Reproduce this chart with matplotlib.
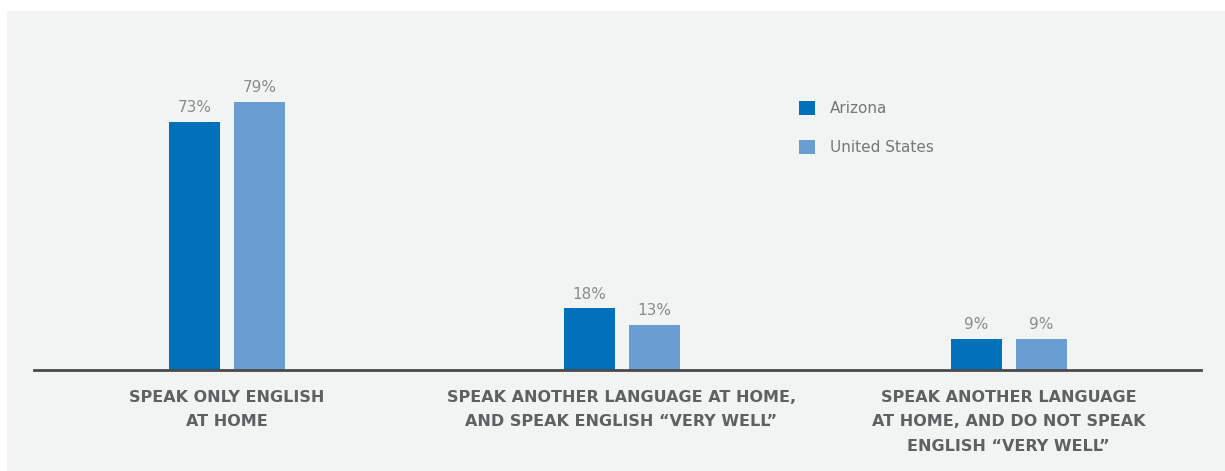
import matplotlib.pyplot as plt
import numpy as np
from matplotlib.patches import Rectangle

categories = [
    "SPEAK ONLY ENGLISH\nAT HOME",
    "SPEAK ANOTHER LANGUAGE AT HOME,\nAND SPEAK ENGLISH \u201cVERY WELL\u201d",
    "SPEAK ANOTHER LANGUAGE\nAT HOME, AND DO NOT SPEAK\nENGLISH \u201cVERY WELL\u201d",
]
series_names = ["Arizona", "United States"]
arizona = [73, 18, 9]
united_states = [79, 13, 9]

colors = ["#0070ba", "#6a9ed3"]
panel_bg = "#f2f3f3"
label_gray = "#8a8a8a"
cat_gray = "#5f6062"

fig = plt.figure(figsize=(12.25, 4.71), dpi=100)
fig.patch.set_facecolor("white")

# light panel behind the chart
fig.patches.append(Rectangle((7 / 1225, 0), 1 - 7 / 1225, (471 - 11) / 471,
                             transform=fig.transFigure, facecolor=panel_bg,
                             edgecolor="none", zorder=-10))

ax = fig.add_axes([34 / 1225, (471 - 369.5) / 471, 1167 / 1225, (369.5 - 11) / 471])
ax.set_facecolor("none")

x = np.array([0, 1.009, 1.999])
width = 0.1304
offset = 0.0831

bars_az = ax.bar(x - offset, arizona, width, color=colors[0], label=series_names[0], zorder=2)
bars_us = ax.bar(x + offset, united_states, width, color=colors[1], label=series_names[1], zorder=2)

for bars, vals in [(bars_az, arizona), (bars_us, united_states)]:
    for b, v in zip(bars, vals):
        ax.annotate(f"{v}%", (b.get_x() + b.get_width() / 2, v),
                    xytext=(0, 5), textcoords="offset points",
                    ha="center", va="bottom", fontsize=11, color=label_gray)

ax.set_xlim(-0.4936, 2.491)
ax.set_ylim(0, (369.5 - 11) / 3.39)

for side in ["top", "right", "left"]:
    ax.spines[side].set_visible(False)
ax.spines["bottom"].set_color("#4a4a4a")
ax.spines["bottom"].set_linewidth(2)
ax.spines["bottom"].set_zorder(3)
ax.set_yticks([])
ax.set_xticks(x)
ax.set_xticklabels(categories, fontsize=11.5, fontweight="bold", color=cat_gray,
                   linespacing=1.76)
ax.tick_params(axis="x", length=0, pad=15)

leg = ax.legend(loc="upper left", bbox_to_anchor=(785 / 1225, (471 - 87) / 471),
                bbox_transform=fig.transFigure, frameon=False, fontsize=11,
                handlelength=1.05, handleheight=1.05, handletextpad=1.0,
                labelspacing=1.55)
for t in leg.get_texts():
    t.set_color("#777777")

fig.savefig("out.png", dpi=100)
